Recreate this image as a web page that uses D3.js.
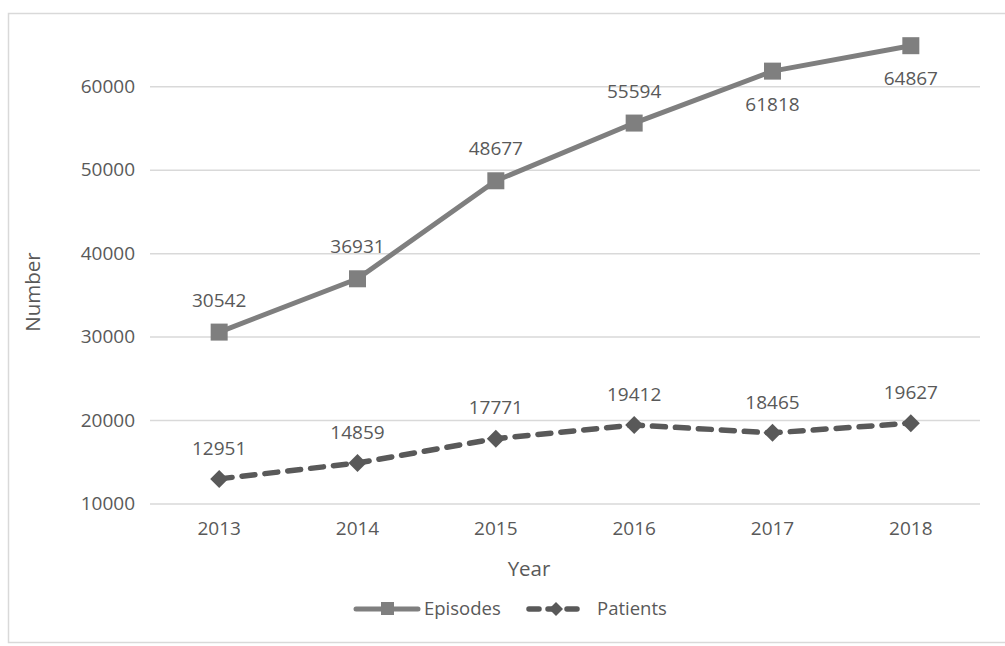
<!DOCTYPE html>
<html><head><meta charset="utf-8">
<script src="https://cdn.jsdelivr.net/npm/d3@7"></script>
<style>
html,body{margin:0;padding:0;background:#fff;}
svg text{font-family:"Open Sans",sans-serif;fill:#595959;}
</style></head>
<body>
<svg id="chart" width="1005" height="646"></svg>
<script>
const years = ["2013","2014","2015","2016","2017","2018"];
const episodes = [30542, 36931, 48677, 55594, 61818, 64867];
const patients = [12951, 14859, 17771, 19412, 18465, 19627];
const yTicks = [10000, 20000, 30000, 40000, 50000, 60000];
const episodeLabelBelow = [false, false, false, false, true, true];

const svg = d3.select("#chart");
// frame
svg.append("rect").attr("x", 8.5).attr("y", 13.5).attr("width", 1010).attr("height", 629)
  .attr("fill", "none").attr("stroke", "#d9d9d9").attr("stroke-width", 1.5);

const x = d3.scaleBand().domain(years).range([150, 980]);
const y = d3.scaleLinear().domain([10000, 60000]).range([503.5, 86.3]);
const cx = d => x(d) + x.bandwidth() / 2;

// gridlines
const yAxis = d3.axisLeft(y).tickValues(yTicks).tickSize(-(980 - 150)).tickPadding(14).tickFormat(d3.format("d"));
const gy = svg.append("g").attr("transform", "translate(150,0)").call(yAxis);
gy.select(".domain").remove();
gy.selectAll(".tick line").attr("stroke", "#d9d9d9").attr("stroke-width", 1.5);
gy.selectAll(".tick text").attr("font-size", 19).attr("fill", "#595959").attr("x", -15);

// x axis
const xAxis = d3.axisBottom(x).tickSize(0).tickPadding(18);
const gx = svg.append("g").attr("transform", "translate(0,503.5)").call(xAxis);
gx.select(".domain").remove();
gx.selectAll(".tick text").attr("font-size", 19).attr("fill", "#595959");

// axis titles
svg.append("text").attr("x", 529).attr("y", 576).attr("text-anchor", "middle")
  .attr("font-size", 20.5).text("Year");
svg.append("text").attr("transform", "translate(40,292) rotate(-90)").attr("text-anchor", "middle")
  .attr("font-size", 20.5).text("Number");

// episodes line
const line = d3.line().x((d, i) => cx(years[i])).y(d => y(d));
svg.append("path").datum(episodes).attr("d", line).attr("fill", "none")
  .attr("stroke", "#7f7f7f").attr("stroke-width", 5).attr("stroke-linejoin", "round");
svg.selectAll(".ep-m").data(episodes).enter().append("rect")
  .attr("x", (d, i) => cx(years[i]) - 8.5).attr("y", d => y(d) - 8.5)
  .attr("width", 17).attr("height", 17).attr("fill", "#7f7f7f");
svg.selectAll(".ep-l").data(episodes).enter().append("text")
  .attr("x", (d, i) => cx(years[i])).attr("y", (d, i) => y(d) + (episodeLabelBelow[i] ? 33 : -32))
  .attr("dy", "0.35em").attr("text-anchor", "middle").attr("font-size", 19).text(d => d);

// patients line
svg.append("path").datum(patients).attr("d", line).attr("fill", "none")
  .attr("stroke", "#595959").attr("stroke-width", 5.5).attr("stroke-dasharray", "13,10")
  .attr("stroke-linecap", "round");
const diamond = (px, py, r) => `M${px},${py - r}L${px + r},${py}L${px},${py + r}L${px - r},${py}Z`;
svg.selectAll(".pa-m").data(patients).enter().append("path")
  .attr("d", (d, i) => diamond(cx(years[i]), y(d), 9)).attr("fill", "#595959");
svg.selectAll(".pa-l").data(patients).enter().append("text")
  .attr("x", (d, i) => cx(years[i])).attr("y", d => y(d) - 31)
  .attr("dy", "0.35em").attr("text-anchor", "middle").attr("font-size", 19).text(d => d);

// legend
const lg = svg.append("g");
lg.append("line").attr("x1", 356).attr("x2", 418).attr("y1", 609).attr("y2", 609)
  .attr("stroke", "#7f7f7f").attr("stroke-width", 5).attr("stroke-linecap", "round");
lg.append("rect").attr("x", 381).attr("y", 602).attr("width", 13).attr("height", 13).attr("fill", "#7f7f7f");
lg.append("text").attr("x", 424).attr("y", 609).attr("dy", "0.35em").attr("font-size", 18.5).text("Episodes");
lg.append("line").attr("x1", 529).attr("x2", 582).attr("y1", 609).attr("y2", 609)
  .attr("stroke", "#595959").attr("stroke-width", 5.5).attr("stroke-dasharray", "10,9")
  .attr("stroke-linecap", "round");
lg.append("path").attr("d", diamond(556, 609, 7)).attr("fill", "#595959");
lg.append("text").attr("x", 597).attr("y", 609).attr("dy", "0.35em").attr("font-size", 18.5).text("Patients");
</script>
</body></html>
